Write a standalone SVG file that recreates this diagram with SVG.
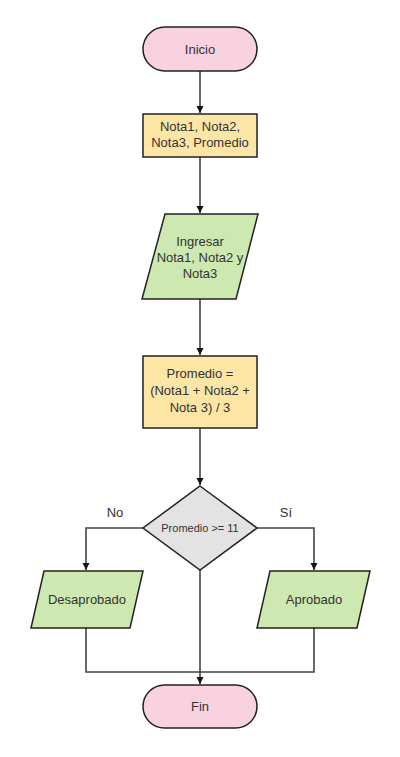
<svg xmlns="http://www.w3.org/2000/svg" width="400" height="757" viewBox="0 0 400 757">
<style>
.n{stroke:#222;stroke-width:1.5}
.t{fill:#a0c8c8}
.pink{fill:#f9d2df}
.yel{fill:#fde5a6}
.grn{fill:#cde8b0}
.gry{fill:#e3e3e3}
text{font-family:"Liberation Sans",Arial,sans-serif;font-size:13px;fill:#333;text-anchor:middle}
.c{fill:none;stroke:#444;stroke-width:1.6}
</style>
<defs>
<marker id="ah" viewBox="0 0 10 10" refX="10" refY="5" markerWidth="7" markerHeight="9" markerUnits="userSpaceOnUse" orient="auto">
<path d="M0,0 L10,5 L0,10 z" fill="#111"/>
</marker>
</defs>
<rect width="400" height="757" fill="#fff"/>
<g id="connectors">
<path class="c" d="M200,71 V113" marker-end="url(#ah)"/>
<path class="c" d="M200,157 V213" marker-end="url(#ah)"/>
<path class="c" d="M200,299 V355" marker-end="url(#ah)"/>
<path class="c" d="M200,428 V485" marker-end="url(#ah)"/>
<path class="c" d="M143,528 H86 V570" marker-end="url(#ah)"/>
<path class="c" d="M257,528 H314 V570" marker-end="url(#ah)"/>
<path class="c" d="M200,570 V684" marker-end="url(#ah)"/>
<path class="c" d="M86,628 V672 H314 V628"/>
<text x="115" y="517">No</text>
<text x="286" y="517">Sí</text>
</g>
<g id="inicio">
<rect class="n pink" x="143" y="27" width="114" height="44" rx="22"/>
<text x="200" y="53.5">Inicio</text>
</g>
<g id="vars">
<rect class="n yel" x="143" y="114" width="114" height="43"/>
<text x="200" y="131">Nota1, Nota2,</text>
<text x="200" y="147">Nota3, Promedio</text>
</g>
<g id="ingresar">
<polygon class="n grn" points="165,214 258,214 236,299 142,299"/>
<text x="200" y="246">Ingresar</text>
<text x="200" y="262">Nota1, Nota2 y</text>
<text x="200" y="278">Nota3</text>
</g>
<g id="calc">
<rect class="n yel" x="143" y="356" width="114" height="72"/>
<text x="200" y="378">Promedio =</text>
<text x="200" y="395">(Nota1 + Nota2 +</text>
<text x="200" y="412">Nota 3) / 3</text>
</g>
<g id="decision">
<polygon class="n gry" points="200,486 257,528 200,570 143,528"/>
<text x="200" y="532" style="font-size:11px">Promedio &gt;= 11</text>
</g>
<g id="desaprobado">
<polygon class="n grn" points="44,571 143,571 130,628 31,628"/>
<text x="87" y="604">Desaprobado</text>
</g>
<g id="aprobado">
<polygon class="n grn" points="270,571 370,571 357,628 257,628"/>
<text x="314" y="604">Aprobado</text>
</g>
<g id="fin">
<rect class="n pink" x="143" y="685" width="114" height="43" rx="21.5"/>
<text x="200" y="711">Fin</text>
</g>
</svg>
